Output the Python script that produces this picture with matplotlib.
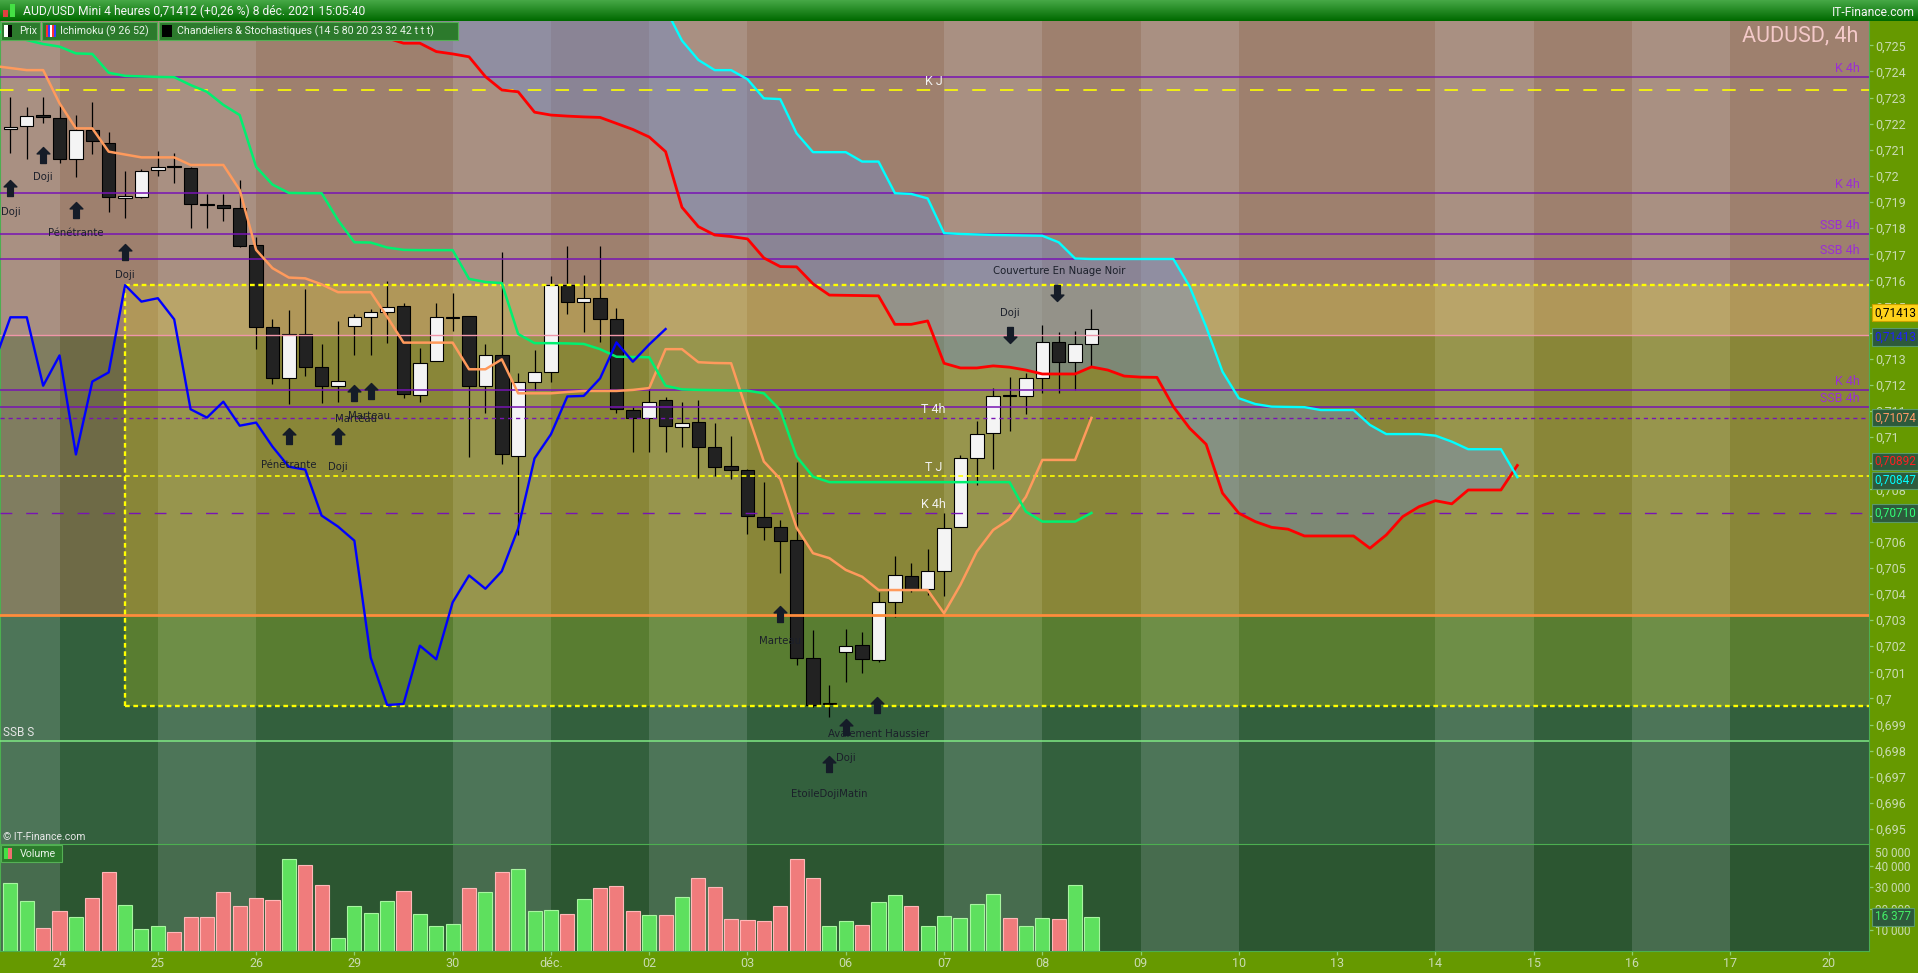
import numpy as np
import matplotlib.pyplot as plt
from matplotlib.colors import LinearSegmentedColormap
from matplotlib.patches import Rectangle
from matplotlib.path import Path
from matplotlib.ticker import FuncFormatter

plt.rcParams["font.family"] = ["Roboto", "DejaVu Sans"]
plt.rcParams["lines.scale_dashes"] = False

# ---------------------------------------------------------------------------
# AUD/USD 4h candles (bar 0 = 23 nov. 2021, six bars per day)
# ---------------------------------------------------------------------------
opens = [0.72178, 0.72190, 0.72234, 0.72220, 0.72063, 0.72176, 0.72126, 0.71914, 0.71918, 0.72023,
         0.72037, 0.72032, 0.71892, 0.71887, 0.71877, 0.71736, 0.71422, 0.71225, 0.71394, 0.71268,
         0.71196, 0.71424, 0.71459, 0.71478, 0.71501, 0.71162, 0.71292, 0.71457, 0.71463, 0.71196,
         0.71313, 0.70928, 0.71210, 0.71248, 0.71583, 0.71516, 0.71532, 0.71451, 0.71103, 0.71075,
         0.71141, 0.71040, 0.71057, 0.70961, 0.70889, 0.70875, 0.70695, 0.70657, 0.70607, 0.70154,
         0.69977, 0.70177, 0.70203, 0.70146, 0.70368, 0.70469, 0.70418, 0.70487, 0.70655, 0.70919,
         0.71015, 0.71160, 0.71156, 0.71225, 0.71363, 0.71287, 0.71355]
highs = [0.72301, 0.72262, 0.72301, 0.72271, 0.72233, 0.72282, 0.72167, 0.72019, 0.72025, 0.72095,
         0.72086, 0.72033, 0.71931, 0.71931, 0.71984, 0.71767, 0.71452, 0.71487, 0.71567, 0.71357,
         0.71445, 0.71470, 0.71489, 0.71598, 0.71512, 0.71340, 0.71515, 0.71553, 0.71463, 0.71357,
         0.71708, 0.71244, 0.71334, 0.71617, 0.71732, 0.71621, 0.71732, 0.71493, 0.71117, 0.71200,
         0.71153, 0.71134, 0.71142, 0.71053, 0.71005, 0.70877, 0.70827, 0.70683, 0.70904, 0.70262,
         0.70052, 0.70266, 0.70253, 0.70409, 0.70545, 0.70520, 0.70571, 0.70709, 0.70931, 0.71062,
         0.71187, 0.71232, 0.71247, 0.71429, 0.71404, 0.71407, 0.71491]
lows = [0.72086, 0.72066, 0.72204, 0.72048, 0.71995, 0.72084, 0.71861, 0.71838, 0.71914, 0.72001,
        0.71972, 0.71802, 0.71802, 0.71826, 0.71729, 0.71336, 0.71202, 0.71126, 0.71236, 0.71130,
        0.71136, 0.71315, 0.71315, 0.71359, 0.71149, 0.71136, 0.71292, 0.71408, 0.70926, 0.71091,
        0.70896, 0.70626, 0.71181, 0.71213, 0.71470, 0.71404, 0.71366, 0.71094, 0.70945, 0.70945,
        0.70945, 0.70964, 0.70843, 0.70852, 0.70839, 0.70628, 0.70607, 0.70479, 0.70128, 0.69969,
        0.69928, 0.70064, 0.70096, 0.70141, 0.70313, 0.70406, 0.70396, 0.70393, 0.70655, 0.70817,
        0.70878, 0.71025, 0.71088, 0.71171, 0.71171, 0.71181, 0.71270]
closes = [0.72188, 0.72229, 0.72224, 0.72066, 0.72176, 0.72135, 0.71918, 0.71923, 0.72019, 0.72035,
          0.72035, 0.71894, 0.71890, 0.71878, 0.71733, 0.71422, 0.71228, 0.71394, 0.71267, 0.71197,
          0.71216, 0.71459, 0.71478, 0.71500, 0.71164, 0.71285, 0.71459, 0.71459, 0.71197, 0.71313,
          0.70934, 0.71213, 0.71248, 0.71582, 0.71519, 0.71532, 0.71451, 0.71107, 0.71075, 0.71136,
          0.71044, 0.71056, 0.70964, 0.70887, 0.70876, 0.70700, 0.70658, 0.70604, 0.70156, 0.69975,
          0.69979, 0.70202, 0.70150, 0.70368, 0.70471, 0.70420, 0.70487, 0.70651, 0.70919, 0.71011,
          0.71156, 0.71158, 0.71225, 0.71363, 0.71289, 0.71355, 0.71414]
volumes = [31800, 23500, 11000, 19000, 16000, 24800, 36900, 21600, 10500, 11900,
           9100, 16000, 16000, 27600, 21100, 24800, 23900, 42900, 40100, 30900,
           6300, 21100, 17900, 23500, 28100, 17400, 11900, 12800, 29500, 27600,
           36900, 38300, 18800, 19300, 17400, 24400, 29500, 30400, 18800, 17000,
           17000, 25300, 34100, 29900, 15100, 14700, 14200, 21100, 42900, 34100,
           11900, 14200, 12300, 23000, 26200, 21100, 11900, 16500, 15600, 22100,
           26700, 15600, 11900, 15600, 15100, 30900, 16377]

# Ichimoku (9 26 52) -- tenkan / kijun from bar -1, spans from bar 22
line_start = -1
tenkan = [0.72421, 0.72413, 0.72405, 0.72405, 0.72278, 0.72182, 0.72182, 0.72093, 0.72082, 0.72071,
          0.72071, 0.72071, 0.72042, 0.72042, 0.72042, 0.71946, 0.71717, 0.71647, 0.71611, 0.71608,
          0.71585, 0.71555, 0.71555, 0.71555, 0.71461, 0.71362, 0.71362, 0.71362, 0.71362, 0.71260,
          0.71260, 0.71298, 0.71168, 0.71168, 0.71168, 0.71173, 0.71177, 0.71177, 0.71177, 0.71181,
          0.71188, 0.71337, 0.71337, 0.71287, 0.71284, 0.71283, 0.71093, 0.70907, 0.70840, 0.70653,
          0.70556, 0.70537, 0.70492, 0.70466, 0.70415, 0.70415, 0.70415, 0.70415, 0.70326, 0.70435,
          0.70562, 0.70645, 0.70686, 0.70772, 0.70913, 0.70913, 0.70913, 0.71074]
kijun = [0.72559, 0.72539, 0.72520, 0.72505, 0.72495, 0.72469, 0.72467, 0.72395, 0.72383, 0.72381,
         0.72379, 0.72378, 0.72348, 0.72322, 0.72272, 0.72233, 0.72035, 0.71967, 0.71935, 0.71934,
         0.71934, 0.71831, 0.71746, 0.71745, 0.71726, 0.71717, 0.71716, 0.71716, 0.71716, 0.71606,
         0.71594, 0.71590, 0.71395, 0.71360, 0.71360, 0.71359, 0.71357, 0.71337, 0.71308, 0.71307,
         0.71306, 0.71197, 0.71183, 0.71181, 0.71180, 0.71179, 0.71178, 0.71168, 0.71104, 0.70926,
         0.70849, 0.70828, 0.70828, 0.70828, 0.70828, 0.70828, 0.70828, 0.70828, 0.70828, 0.70828,
         0.70828, 0.70828, 0.70828, 0.70715, 0.70677, 0.70677, 0.70677, 0.70710]
span_start = 22
ssb = [0.72559, 0.72528, 0.72508, 0.72508, 0.72476, 0.72467, 0.72456, 0.72380, 0.72329, 0.72322,
       0.72244, 0.72233, 0.72229, 0.72226, 0.72224, 0.72201, 0.72178, 0.72149, 0.72093, 0.71880,
       0.71806, 0.71774, 0.71768, 0.71759, 0.71686, 0.71653, 0.71652, 0.71587, 0.71544, 0.71543,
       0.71542, 0.71541, 0.71432, 0.71432, 0.71445, 0.71283, 0.71265, 0.71265, 0.71273, 0.71268,
       0.71257, 0.71242, 0.71242, 0.71242, 0.71269, 0.71257, 0.71234, 0.71230, 0.71229, 0.71117,
       0.71034, 0.70973, 0.70786, 0.70709, 0.70677, 0.70655, 0.70648, 0.70622, 0.70622, 0.70622,
       0.70622, 0.70575, 0.70626, 0.70696, 0.70734, 0.70757, 0.70745, 0.70798, 0.70798, 0.70798,
       0.70892]
ssa = [0.7275] * 18 + [
       0.72640, 0.72518,
       0.72444, 0.72405, 0.72405, 0.72370, 0.72297, 0.72294, 0.72163, 0.72091, 0.72091, 0.72091,
       0.72055, 0.72055, 0.71934, 0.71931, 0.71914, 0.71781, 0.71778, 0.71776, 0.71774, 0.71773,
       0.71772, 0.71771, 0.71746, 0.71684, 0.71682, 0.71682, 0.71682, 0.71682, 0.71682, 0.71682,
       0.71576, 0.71423, 0.71251, 0.71149, 0.71127, 0.71117, 0.71116, 0.71115, 0.71104, 0.71104,
       0.71104, 0.71047, 0.71012, 0.71012, 0.71012, 0.71006, 0.70983, 0.70954, 0.70954, 0.70954,
       0.70847]
chikou_shift = 26

# horizontal levels
k4h_levels = [0.72379, 0.71935, 0.71181]
ssb4h_levels = [0.71778, 0.71682, 0.71116]
kj_level = 0.72329
t4h_level = 0.71074
tj_level = 0.70852
k4h_mid_level = 0.70710
pink_level = 0.71390
orange_level = 0.70320
ssb_s_level = 0.69838
zone_top, zone_bottom, zone_left = 0.71583, 0.69972, 7.0

day_ticks = list(range(3, 112, 6))
day_labels = ["24", "25", "26", "29", "30", "déc.", "02", "03", "06", "07",
              "08", "09", "10", "13", "14", "15", "16", "17", "20"]
light_day_starts = [-3, 9, 27, 39, 57, 69, 87, 99]
price_ticks = np.round(np.arange(0.695, 0.7255, 0.001), 3)
hidden_price_labels = {0.714, 0.709, 0.707}

patterns = [("Doji", 0.0, 0.71862), ("Doji", 2.0, 0.71996), ("Pénétrante", 4.0, 0.71781),
            ("Doji", 7.0, 0.71621), ("Pénétrante", 17.0, 0.70894), ("Doji", 20.0, 0.70887),
            ("Marteau", 21.1, 0.71070), ("Marteau", 21.9, 0.71080), ("Marteau", 47.0, 0.70221),
            ("Avalement Haussier", 53.0, 0.69865), ("Doji", 51.0, 0.69773),
            ("EtoileDojiMatin", 50.0, 0.69636), ("Couverture En Nuage Noir", 64.0, 0.71637),
            ("Doji", 61.0, 0.71475)]
arrows_up = [(0.0, 0.71953), (2.0, 0.72080), (4.0, 0.71869), (7.0, 0.71709), (17.0, 0.71005),
             (20.0, 0.71005), (21.0, 0.71170), (22.0, 0.71176), (47.0, 0.70324), (52.9, 0.69976),
             (51.0, 0.69892), (50.0, 0.69750)]
arrows_down = [(63.9, 0.71552), (61.0, 0.71391)]

# ---------------------------------------------------------------------------
W, H = 1918, 973
X0, X1 = -0.635, 113.47
P_BOT, P_TOP = 0.69443, 0.72593
ROSY, OLIVE, DKGREEN = "#9e806e", "#6e6a46", "#33603d"
PURPLE, YELLOW = "#7814b4", "#ffff00"
TICK_TXT = "#c9dbb2"

fig = plt.figure(figsize=(W / 100, H / 100), dpi=100, facecolor="#669900")


def px_axes(x0, y0, x1, y1, **kw):
    return fig.add_axes([x0 / W, 1 - y1 / H, (x1 - x0) / W, (y1 - y0) / H], **kw)


ax = px_axes(0, 21, 1869, 844)
axv = px_axes(0, 844, 1869, 951)

# ---- backgrounds ----
ax.axhspan(pink_level, 1.0, color=ROSY, lw=0, zorder=0)
ax.axhspan(orange_level, pink_level, color=OLIVE, lw=0, zorder=0)
ax.axhspan(0.5, orange_level, color=DKGREEN, lw=0, zorder=0)
axv.set_facecolor("#2c5631")
for s in light_day_starts:
    ax.axvspan(s, s + 6, color="#e8eef8", alpha=0.15, lw=0, zorder=0.2)
    axv.axvspan(s, s + 6, color="#e8eef8", alpha=0.15, lw=0, zorder=0.2)
ax.add_patch(Rectangle((zone_left, zone_bottom), 200, zone_top - zone_bottom,
                       fc=YELLOW, alpha=0.19, lw=0, zorder=0.3))

# ---- cloud ----
span_x = np.arange(span_start, span_start + len(ssb))
ax.fill_between(span_x, ssa, ssb, color="#6c8cd2", alpha=0.4, lw=0, zorder=0.5)

# ---- candles ----
o, hi, lo, c = (np.array(v) for v in (opens, highs, lows, closes))
idx = np.arange(len(c))
up = c >= o
ax.vlines(idx, lo, hi, color="black", lw=0.9, zorder=3)
body_lo = np.minimum(o, c)
body_h = np.maximum(np.abs(c - o), 0.00004)
ax.bar(idx[up], body_h[up], 0.82, bottom=body_lo[up], color="#f4f4f4",
       edgecolor="black", lw=0.8, zorder=3.2)
ax.bar(idx[~up], body_h[~up], 0.82, bottom=body_lo[~up], color="#222222",
       edgecolor="black", lw=0.8, zorder=3.2)

# ---- horizontal levels ----
for y in k4h_levels + ssb4h_levels:
    ax.axhline(y, color=PURPLE, lw=1.1, zorder=3.5)
ax.axhline(kj_level, color=YELLOW, lw=1.2, ls=(0, (9.7, 10.3)), zorder=3.5)
ax.axhline(t4h_level, color=PURPLE, lw=1.0, ls=(0, (3, 2.8)), zorder=3.5)
ax.axhline(tj_level, color=YELLOW, lw=1.2, ls=(0, (3.4, 2.6)), zorder=3.5)
ax.axhline(k4h_mid_level, color=PURPLE, lw=1.0, ls=(0, (8.5, 10)), zorder=3.5)
ax.axhline(pink_level, color="#f096aa", lw=1.0, zorder=3.5)
ax.axhline(orange_level, color="#ff8c3c", lw=2.0, zorder=3.5)
ax.axhline(ssb_s_level, color="#7fe884", lw=1.1, zorder=3.5)
for y in (zone_top, zone_bottom):
    ax.hlines(y, zone_left, X1 + 2, color=YELLOW, lw=1.7, ls=(0, (3.4, 2.6)), zorder=3.5)
ax.vlines(zone_left, zone_bottom, zone_top, color=YELLOW, lw=1.7, ls=(0, (3.4, 2.6)), zorder=3.5)

# ---- ichimoku lines ----
ln_x = np.arange(line_start, line_start + len(tenkan))
ax.plot(ln_x, tenkan, color="#ff9a5c", lw=1.8, zorder=4)
ax.plot(ln_x, kijun, color="#00f070", lw=1.8, zorder=4)
ax.plot(span_x, ssb, color="#ff0000", lw=2.0, zorder=4)
ax.plot(span_x, ssa, color="#00ffff", lw=1.7, zorder=4)
chik = closes[chikou_shift + line_start:]
ax.plot(np.arange(line_start, line_start + len(chik)), chik, color="#0000ff", lw=1.7, zorder=4)

# ---- level labels ----
for y in k4h_levels:
    ax.annotate("K 4h", (112.9, y), xytext=(0, 6), textcoords="offset points",
                ha="right", va="center", fontsize=9, color="#9a2ed4", zorder=6)
for y in ssb4h_levels:
    ax.annotate("SSB 4h", (112.9, y), xytext=(0, 6), textcoords="offset points",
                ha="right", va="center", fontsize=9, color="#9a2ed4", zorder=6)
for txt, y in (("K J", kj_level), ("T 4h", t4h_level), ("T J", tj_level), ("K 4h", k4h_mid_level)):
    ax.annotate(txt, (56.35, y), xytext=(0, 6), textcoords="offset points",
                ha="center", va="center", fontsize=9, color="#f2f2f2", zorder=6)
ax.annotate("SSB S", (-0.45, ssb_s_level), xytext=(0, 6), textcoords="offset points",
            ha="left", va="center", fontsize=8.5, color="#e6e6e6", zorder=6)

# ---- candle patterns ----
for txt, x, y in patterns:
    ax.text(x, y, txt, ha="center", va="center", fontsize=7.3, family="DejaVu Sans",
            color="#1b1f2a", zorder=6)
arrow_up = Path([(0, 1), (0.8, 0.2), (0.36, 0.2), (0.36, -1), (-0.36, -1), (-0.36, 0.2),
                 (-0.8, 0.2), (0, 1)], closed=True)
arrow_dn = Path(arrow_up.vertices * [1, -1], closed=True)
ax.plot(*zip(*arrows_up), ls="none", marker=arrow_up, ms=11.5, color="#151c28", zorder=6)
ax.plot(*zip(*arrows_down), ls="none", marker=arrow_dn, ms=11.5, color="#151c28", zorder=6)

ax.text(0.9941, 0.9818, "AUDUSD, 4h", transform=ax.transAxes, ha="right", va="center",
        fontsize=15.5, color="#f4c9c9", zorder=6)
ax.text(0.0016, 0.009, "© IT-Finance.com", transform=ax.transAxes, ha="left", va="center",
        fontsize=7.5, color="#e8e8e8", zorder=6)

# ---- volume ----
vcol = np.where(up, "#5ee05e", "#f07c7c")
ecol = np.where(up, "#a8f5a0", "#ffb8b8")
axv.bar(idx, volumes, 0.86, color=vcol, edgecolor=ecol, lw=0.8, zorder=2)

# ---- axes, ticks ----
for a in (ax, axv):
    a.set_xlim(X0, X1)
    a.yaxis.tick_right()
    for s in a.spines.values():
        s.set_visible(False)
    a.spines["right"].set_visible(True)
    a.spines["right"].set_color("#4caf50")
    a.spines["left"].set_visible(True)
    a.spines["left"].set_color("#4caf50")
ax.set_ylim(P_BOT, P_TOP)
axv.set_ylim(460, 50000)
axv.spines["top"].set_visible(True)
axv.spines["top"].set_color("#4caf50")
axv.spines["bottom"].set_visible(True)
axv.spines["bottom"].set_color("#4caf50")


def price_fmt(v, _):
    if round(v, 3) in hidden_price_labels:
        return ""
    return f"{v:.3f}".rstrip("0").replace(".", ",")


ax.set_xticks([])
ax.set_yticks(price_ticks)
ax.yaxis.set_major_formatter(FuncFormatter(price_fmt))
ax.tick_params(axis="y", length=2.9, width=0.9, color="#8fcf6f", labelcolor=TICK_TXT,
               labelsize=9, pad=1.5)

axv.set_yticks([10000, 20000, 30000, 40000])
axv.set_yticklabels(["10 000", "20 000", "30 000", "40 000"])
axv.tick_params(axis="y", length=2.9, width=0.9, color="#8fcf6f", labelcolor=TICK_TXT,
                labelsize=8.5, pad=1.5)
axv.text(1.0032, 45400, "50 000", transform=axv.get_yaxis_transform(), ha="left",
         va="center", fontsize=8.5, color=TICK_TXT, clip_on=False)
axv.set_xticks(day_ticks)
axv.set_xticklabels(day_labels)
axv.tick_params(axis="x", length=2.9, width=0.9, color="#8fcf6f", labelcolor=TICK_TXT,
                labelsize=9, pad=1.5)

# ---- value boxes on the price scale ----
boxes = [(0.71476, "0,71413", "#ffd21a", "#000000", "#c8a000"),
         (0.71384, "0,71413", "#2d5a3c", "#2020ff", "#5a9a6a"),
         (0.71074, "0,71074", "#2d5a3c", "#ff9a66", "#5a9a6a"),
         (0.70908, "0,70892", "#2d5a3c", "#ff2020", "#5a9a6a"),
         (0.70834, "0,70847", "#2d5a3c", "#00ffff", "#5a9a6a"),
         (0.70710, "0,70710", "#2d5a3c", "#33ff77", "#5a9a6a")]
for y, txt, fc, tc, ec in boxes:
    ax.text(1.0027, y, txt, transform=ax.get_yaxis_transform(), ha="left", va="center",
            fontsize=8.5, color=tc, clip_on=False, zorder=7,
            bbox=dict(boxstyle="square,pad=0.18", fc=fc, ec=ec, lw=0.8))
axv.text(1.0032, 16377, "16 377", transform=axv.get_yaxis_transform(), ha="left", va="center",
         fontsize=8.5, color="#44ee66", clip_on=False, zorder=7,
         bbox=dict(boxstyle="square,pad=0.22", fc="#2d5a3c", ec="#5a9a6a", lw=0.8))

# ---- header, legends (pixel overlay) ----
ov = fig.add_axes([0, 0, 1, 1], zorder=10)
grad = LinearSegmentedColormap.from_list("hdr", ["#46a846", "#006a00"])
ov.imshow(np.linspace(0, 1, 32).reshape(-1, 1), cmap=grad, aspect="auto",
          extent=(0, W, 21, 0), interpolation="bilinear")
ov.set_xlim(0, W)
ov.set_ylim(H, 0)
ov.axis("off")
ov.add_patch(Rectangle((3, 10), 5, 7, fc="#e04040", ec="none"))
ov.add_patch(Rectangle((10, 4), 5, 13, fc="#44e044", ec="none"))
ov.text(23, 11, "AUD/USD Mini 4 heures 0,71412 (+0,26 %) 8 déc. 2021 15:05:40",
        color="#f4f4f4", fontsize=8.7, va="center")
ov.text(1915, 12, "IT-Finance.com", color="#f4f4f4", fontsize=8.7, va="center", ha="right")

legend_boxes = [(1, 40, "Prix", 19), (42, 157, "Ichimoku (9 26 52)", 60),
                (159, 458, "Chandeliers & Stochastiques (14 5 80 20 23 32 42 t t t)", 177)]
for x0, x1, txt, tx in legend_boxes:
    ov.add_patch(Rectangle((x0, 22), x1 - x0, 18, fc="#2c7a2c", ec="#55b055", lw=0.8))
    ov.text(tx, 31.5, txt, color="#eaf4ea", fontsize=7.7, va="center")
ov.add_patch(Rectangle((4, 25), 4, 12, fc="white", ec="none"))
ov.add_patch(Rectangle((8, 25), 4, 12, fc="black", ec="none"))
for k, col in enumerate(["#ff3030", "#3040ff", "#ffffff", "#ff3030", "#3040ff"]):
    ov.add_patch(Rectangle((46 + 2 * k, 25), 2, 12, fc=col, ec="none"))
ov.add_patch(Rectangle((162, 25), 10, 12, fc="black", ec="none"))

ov.add_patch(Rectangle((1, 845), 61, 17, fc="#2c7a2c", ec="#55b055", lw=0.8))
ov.add_patch(Rectangle((4, 848), 4, 11, fc="#44e044", ec="none"))
ov.add_patch(Rectangle((8, 848), 4, 11, fc="#f07070", ec="none"))
ov.text(20, 854, "Volume", color="#eaf4ea", fontsize=7.7, va="center")

fig.savefig("out.png", dpi=100, facecolor=fig.get_facecolor())
